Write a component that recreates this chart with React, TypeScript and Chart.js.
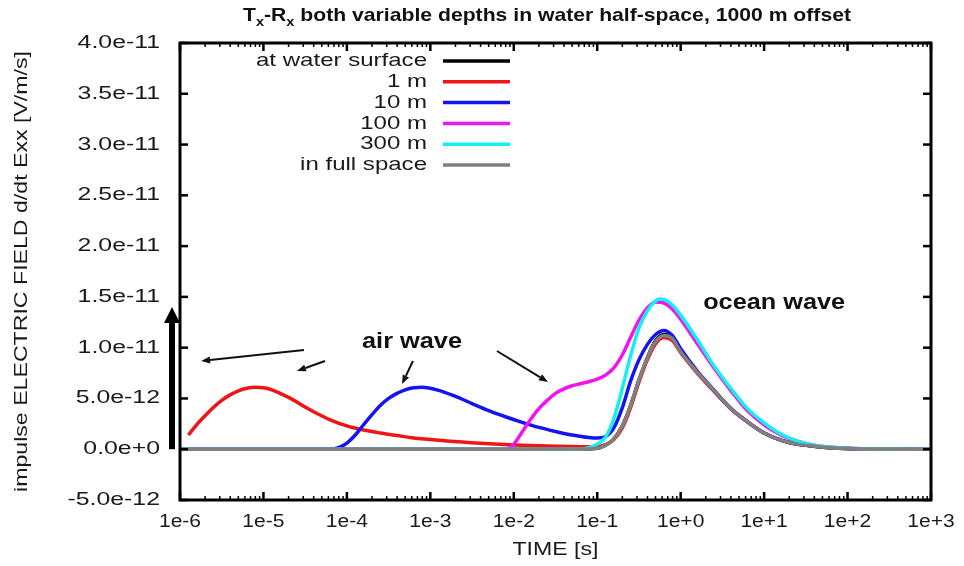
import React, { useEffect, useRef } from "react";
import { Chart, registerables } from "chart.js";

Chart.register(...registerables);

// ---------------- data (values in units of 1e-12 V/m/s) ----------------
const seriesLabels = ["at water surface", "1 m", "10 m", "100 m", "300 m", "in full space"];
const seriesColors = ["#000000", "#f01414", "#1414f0", "#f014f0", "#14f0f0", "#808080"];

const tSurface = [1e-6, 1e-2, 6.31e-2, 0.1, 0.126, 0.158, 0.2, 0.251, 0.316, 0.398, 0.501, 0.631, 0.794, 1, 1.58, 2.51, 3.98, 6.31, 10, 15.8, 25.1, 39.8, 63.1, 100, 316, 1000];
const vSurface = [0, 0, 0.02, 0.1, 0.4, 1.0, 2.3, 4.3, 6.8, 9.0, 10.7, 11.3, 11.0, 9.7, 7.6, 5.8, 4.0, 2.7, 1.6, 0.9, 0.5, 0.3, 0.15, 0.08, 0.02, 0];

const t1m = [1.26e-6, 1.58e-6, 2.0e-6, 2.51e-6, 3.16e-6, 3.98e-6, 5.01e-6, 6.31e-6, 7.94e-6, 1e-5, 1.26e-5, 1.58e-5, 2.0e-5, 2.51e-5, 3.16e-5, 3.98e-5, 6.31e-5, 1e-4, 1.58e-4, 2.51e-4, 3.98e-4, 6.31e-4, 1e-3, 1.58e-3, 3.98e-3, 1e-2, 2.51e-2, 6.31e-2, 7.94e-2, 0.1, 0.126, 0.158, 0.2, 0.251, 0.316, 0.398, 0.501, 0.631, 0.794, 1, 1.58, 2.51, 3.98, 6.31, 10, 15.8, 25.1, 39.8, 63.1, 100, 316, 1000];
const v1m = [1.4, 2.4, 3.3, 4.1, 4.8, 5.35, 5.75, 6.0, 6.1, 6.05, 5.85, 5.5, 5.1, 4.65, 4.15, 3.7, 2.9, 2.3, 1.9, 1.6, 1.35, 1.1, 0.95, 0.8, 0.58, 0.42, 0.32, 0.25, 0.24, 0.25, 0.45, 0.95, 2.1, 4.1, 6.6, 8.8, 10.4, 11.0, 10.7, 9.5, 7.5, 5.7, 4.0, 2.7, 1.6, 0.9, 0.5, 0.3, 0.15, 0.08, 0.02, 0];

const t10m = [1e-6, 6.31e-5, 7.94e-5, 1e-4, 1.26e-4, 1.58e-4, 2.0e-4, 2.51e-4, 3.16e-4, 3.98e-4, 5.01e-4, 6.31e-4, 7.94e-4, 1.26e-3, 2.0e-3, 3.16e-3, 5.01e-3, 7.94e-3, 1.26e-2, 2.0e-2, 3.16e-2, 5.01e-2, 7.94e-2, 0.1, 0.126, 0.158, 0.2, 0.251, 0.316, 0.398, 0.501, 0.631, 0.794, 1, 1.58, 2.51, 3.98, 6.31, 10, 15.8, 25.1, 39.8, 63.1, 100, 316, 1000];
const v10m = [0, 0, 0.15, 0.6, 1.4, 2.4, 3.4, 4.3, 5.0, 5.5, 5.85, 6.05, 6.1, 5.8, 5.2, 4.5, 3.8, 3.2, 2.65, 2.15, 1.75, 1.4, 1.15, 1.1, 1.25, 2.1, 4.1, 6.7, 8.8, 10.3, 11.3, 11.7, 11.2, 9.9, 7.7, 5.8, 4.0, 2.7, 1.6, 0.9, 0.5, 0.3, 0.15, 0.08, 0.02, 0];

const t100m = [1e-6, 7.94e-3, 1e-2, 1.26e-2, 1.58e-2, 2.0e-2, 2.51e-2, 3.16e-2, 3.98e-2, 5.01e-2, 6.31e-2, 7.94e-2, 0.1, 0.126, 0.158, 0.2, 0.251, 0.316, 0.398, 0.501, 0.631, 0.794, 1, 1.58, 2.51, 3.98, 6.31, 10, 15.8, 25.1, 39.8, 63.1, 100, 316, 1000];
const v100m = [0, 0, 0.5, 1.7, 2.9, 4.0, 4.8, 5.5, 5.95, 6.25, 6.45, 6.65, 6.9, 7.3, 8.0, 9.3, 11.0, 12.7, 13.9, 14.5, 14.4, 13.8, 12.8, 10.4, 8.0, 5.8, 3.8, 2.4, 1.4, 0.8, 0.4, 0.2, 0.1, 0.02, 0];

const t300m = [1e-6, 6.31e-2, 7.94e-2, 0.1, 0.126, 0.158, 0.2, 0.251, 0.316, 0.398, 0.501, 0.562, 0.631, 0.794, 1, 1.58, 2.51, 3.98, 6.31, 10, 15.8, 25.1, 39.8, 63.1, 100, 316, 1000];
const v300m = [0, 0, 0.15, 0.5, 1.2, 3.0, 6.0, 9.2, 11.9, 13.6, 14.6, 14.8, 14.75, 14.2, 13.2, 10.8, 8.2, 6.0, 4.0, 2.6, 1.5, 0.8, 0.4, 0.2, 0.1, 0.02, 0];

const tFull = [1e-6, 1e-2, 6.31e-2, 0.1, 0.126, 0.158, 0.2, 0.251, 0.316, 0.398, 0.501, 0.631, 0.794, 1, 1.58, 2.51, 3.98, 6.31, 10, 15.8, 25.1, 39.8, 63.1, 100, 316, 1000];
const vFull = [0, 0, 0.02, 0.1, 0.4, 1.0, 2.3, 4.3, 6.8, 9.0, 10.6, 11.2, 10.9, 9.6, 7.6, 5.8, 4.0, 2.7, 1.6, 0.9, 0.5, 0.3, 0.15, 0.08, 0.02, 0];

const UNIT = 1e-12;

const xTickValues = [1e-6, 1e-5, 1e-4, 1e-3, 1e-2, 1e-1, 1, 10, 100, 1000];
const xTickLabels = ["1e-6", "1e-5", "1e-4", "1e-3", "1e-2", "1e-1", "1e+0", "1e+1", "1e+2", "1e+3"];
const xMinorMultipliers = [2, 3, 4, 5, 6, 7, 8, 9];
const yTickValues = [-5e-12, 0, 5e-12, 1e-11, 1.5e-11, 2e-11, 2.5e-11, 3e-11, 3.5e-11, 4e-11];
const yTickLabels = ["-5.0e-12", "0.0e+0", "5.0e-12", "1.0e-11", "1.5e-11", "2.0e-11", "2.5e-11", "3.0e-11", "3.5e-11", "4.0e-11"];

const titleParts = ["T", "x", "-R", "x", " both variable depths in water half-space, 1000 m offset"];
const xTitle = "TIME [s]";
const yTitle = "impulse ELECTRIC FIELD d/dt Exx [V/m/s]";

// annotation anchors in data coordinates [t1, v1, t2, v2]
const annotationArrows = [
  [3.06e-5, 9.77e-12, 1.79e-6, 8.69e-12],
  [5.47e-5, 8.69e-12, 2.52e-5, 7.7e-12],
  [6.19e-4, 8.69e-12, 4.58e-4, 6.42e-12],
  [6.29e-3, 9.67e-12, 2.57e-2, 6.62e-12],
];
const annotationTexts = [
  { text: "air wave", t: 6.03e-4, v: 1.056e-11, width: 100 },
  { text: "ocean wave", t: 13.2, v: 1.44e-11, width: 142 },
];

const FONT = "'Liberation Sans', Arial, Helvetica, sans-serif";

function pts(ts: number[], vs: number[]) {
  return ts.map((t, i) => ({ x: t, y: vs[i] * UNIT }));
}

function drawStretched(ctx: CanvasRenderingContext2D, text: string, x: number, y: number, font: string, sx: number, align: string) {
  ctx.save();
  ctx.font = font;
  const w = ctx.measureText(text).width * sx;
  const x0 = align === "center" ? x - w / 2 : align === "right" ? x - w : x;
  ctx.translate(x0, y);
  ctx.scale(sx, 1);
  ctx.textAlign = "left";
  ctx.textBaseline = "middle";
  ctx.fillText(text, 0, 0);
  ctx.restore();
}

function drawFitted(ctx: CanvasRenderingContext2D, text: string, x: number, y: number, font: string, width: number, align: string) {
  ctx.save();
  ctx.font = font;
  const w = ctx.measureText(text).width;
  ctx.restore();
  drawStretched(ctx, text, x, y, font, width / w, align);
}

function arrow(ctx: CanvasRenderingContext2D, x1: number, y1: number, x2: number, y2: number, headLen: number, headW: number, lw: number) {
  const ang = Math.atan2(y2 - y1, x2 - x1);
  const c = Math.cos(ang), s = Math.sin(ang);
  const bx = x2 - headLen * c, by = y2 - headLen * s;
  ctx.lineWidth = lw;
  ctx.beginPath();
  ctx.moveTo(x1, y1);
  ctx.lineTo(bx, by);
  ctx.stroke();
  ctx.beginPath();
  ctx.moveTo(x2, y2);
  ctx.lineTo(bx - (headW / 2) * s, by + (headW / 2) * c);
  ctx.lineTo(bx + (headW / 2) * s, by - (headW / 2) * c);
  ctx.closePath();
  ctx.fill();
}

const decorPlugin = {
  id: "decor",
  afterDraw(chart: any) {
    const ctx: CanvasRenderingContext2D = chart.ctx;
    const a = chart.chartArea;
    const xs = chart.scales.x;
    const ys = chart.scales.y;
    const seg = (x1: number, y1: number, x2: number, y2: number) => {
      ctx.beginPath();
      ctx.moveTo(x1, y1);
      ctx.lineTo(x2, y2);
      ctx.stroke();
    };
    ctx.save();
    ctx.strokeStyle = "#000";
    ctx.fillStyle = "#000";
    ctx.lineCap = "butt";

    // ticks
    ctx.lineWidth = 2.5;
    for (const v of yTickValues) {
      const py = ys.getPixelForValue(v);
      seg(a.left, py, a.left + 8, py);
      seg(a.right, py, a.right - 8, py);
    }
    for (const t of xTickValues) {
      const px = xs.getPixelForValue(t);
      seg(px, a.bottom, px, a.bottom - 8);
      seg(px, a.top, px, a.top + 8);
    }
    ctx.lineWidth = 1.5;
    for (let i = 0; i < xTickValues.length - 1; i++) {
      for (const m of xMinorMultipliers) {
        const px = xs.getPixelForValue(xTickValues[i] * m);
        seg(px, a.bottom, px, a.bottom - 4);
        seg(px, a.top, px, a.top + 4);
      }
    }
    // frame
    ctx.lineWidth = 3;
    ctx.strokeRect(a.left, a.top, a.right - a.left, a.bottom - a.top);

    // tick labels
    ctx.fillStyle = "#1a1a1a";
    const tickFont = `18px ${FONT}`;
    yTickValues.forEach((v, i) => {
      drawStretched(ctx, yTickLabels[i], a.left - 20, ys.getPixelForValue(v), tickFont, 1.38, "right");
    });
    xTickValues.forEach((t, i) => {
      drawStretched(ctx, xTickLabels[i], xs.getPixelForValue(t), a.bottom + 22, tickFont, 1.17, "center");
    });

    // axis titles
    drawFitted(ctx, xTitle, (a.left + a.right) / 2, a.bottom + 50, `18px ${FONT}`, 86, "center");
    ctx.save();
    ctx.translate(22, (a.top + a.bottom) / 2);
    ctx.rotate(-Math.PI / 2);
    drawFitted(ctx, yTitle, 0, 0, `18px ${FONT}`, 441, "center");
    ctx.restore();

    // title with subscripts
    {
      const big = `bold 19px ${FONT}`;
      const small = `bold 13px ${FONT}`;
      const fonts = [big, small, big, small, big];
      const offs = [0, 6, 0, 6, 0];
      const widths = titleParts.map((p, i) => {
        ctx.font = fonts[i];
        return ctx.measureText(p).width;
      });
      const total = widths.reduce((s, w) => s + w, 0);
      const target = 608;
      const sx = target / total;
      let x = 547 - target / 2;
      ctx.fillStyle = "#111";
      titleParts.forEach((p, i) => {
        drawStretched(ctx, p, x, 16 + offs[i], fonts[i], sx, "left");
        x += widths[i] * sx;
      });
    }

    // legend (gnuplot style)
    {
      const legFont = `19px ${FONT}`;
      ctx.font = legFont;
      const sx = 171 / ctx.measureText(seriesLabels[0]).width;
      const textRight = a.left + 247;
      const lineX1 = a.left + 263;
      const lineX2 = a.left + 330;
      seriesLabels.forEach((lab, i) => {
        const y = a.top + 18 + i * 20.8;
        ctx.fillStyle = "#1a1a1a";
        drawStretched(ctx, lab, textRight, y, legFont, sx, "right");
        ctx.strokeStyle = seriesColors[i];
        ctx.lineWidth = 3.5;
        seg(lineX1, y, lineX2, y);
      });
    }

    // annotations
    ctx.strokeStyle = "#111";
    ctx.fillStyle = "#111";
    for (const [t1, v1, t2, v2] of annotationArrows) {
      arrow(ctx, xs.getPixelForValue(t1), ys.getPixelForValue(v1), xs.getPixelForValue(t2), ys.getPixelForValue(v2), 9, 7, 2);
    }
    for (const an of annotationTexts) {
      drawFitted(ctx, an.text, xs.getPixelForValue(an.t), ys.getPixelForValue(an.v), `bold 22px ${FONT}`, an.width, "center");
    }
    // thick vertical arrow on the left
    ctx.fillStyle = "#000";
    ctx.strokeStyle = "#000";
    arrow(ctx, a.left - 8, ys.getPixelForValue(0), a.left - 8, ys.getPixelForValue(1.4e-11), 16, 16, 6);

    ctx.restore();
  },
};

export default function App() {
  const canvasRef = useRef<HTMLCanvasElement | null>(null);

  useEffect(() => {
    document.body.style.margin = "0";
    const canvas = canvasRef.current;
    if (!canvas) return;
    const series = [
      { t: tSurface, v: vSurface, order: 5 },
      { t: t1m, v: v1m, order: 4 },
      { t: t10m, v: v10m, order: 3 },
      { t: t100m, v: v100m, order: 2 },
      { t: t300m, v: v300m, order: 1 },
      { t: tFull, v: vFull, order: 0 },
    ];
    const chart = new Chart(canvas, {
      type: "line",
      data: {
        datasets: series.map((s, i) => ({
          label: seriesLabels[i],
          data: pts(s.t, s.v),
          borderColor: seriesColors[i],
          backgroundColor: seriesColors[i],
          borderWidth: 3.5,
          pointRadius: 0,
          fill: false,
          cubicInterpolationMode: "monotone" as const,
          order: s.order,
        })),
      },
      options: {
        animation: false,
        responsive: false,
        devicePixelRatio: 1,
        layout: { padding: { left: 180, top: 43, right: 33, bottom: 66 } },
        scales: {
          x: {
            type: "logarithmic",
            min: 1e-6,
            max: 1e3,
            ticks: { display: false },
            grid: { display: false, drawTicks: false },
            border: { display: false },
            title: { display: false },
          },
          y: {
            type: "linear",
            min: -5e-12,
            max: 4e-11,
            ticks: { display: false },
            grid: { display: false, drawTicks: false },
            border: { display: false },
            title: { display: false },
          },
        },
        plugins: {
          legend: { display: false },
          tooltip: { enabled: false },
          title: { display: false },
        },
      },
      plugins: [decorPlugin],
    });
    return () => chart.destroy();
  }, []);

  return (
    <div style={{ width: 964, height: 566, background: "#fff" }}>
      <canvas ref={canvasRef} width={964} height={566} style={{ display: "block" }} />
    </div>
  );
}
